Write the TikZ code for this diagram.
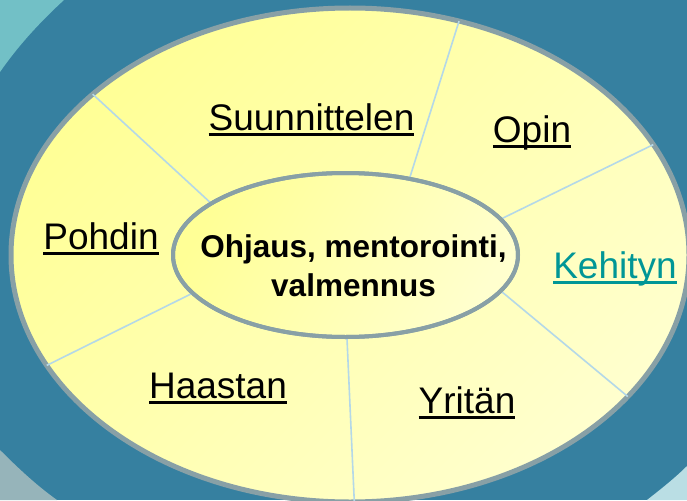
\documentclass[tikz,border=0pt]{standalone}
\usepackage{fontspec}
\setmainfont{Liberation Sans}
\usepackage{xcolor}
\usepackage{tikz}
\usetikzlibrary{shapes.geometric, positioning}
\definecolor{ringteal}{RGB}{54,128,160}
\definecolor{cornerteal}{RGB}{114,192,198}
\definecolor{cornergray}{RGB}{150,180,186}
\definecolor{cornercyan}{RGB}{186,222,228}
\definecolor{rimgray}{RGB}{136,160,166}
\definecolor{sunyellow}{RGB}{255,255,150}
\definecolor{paleyellow}{RGB}{255,255,206}
\definecolor{spoke}{RGB}{180,216,232}
\definecolor{linkteal}{RGB}{0,150,150}
\newcommand\ulabel[1]{\setbox0\hbox{#1}\rlap{\rule[-0.155em]{\wd0}{0.075em}}\box0}
\tikzset{
    plate/.style={ellipse, draw=rimgray, line width=5pt, inner sep=0pt, outer sep=0pt, top color=sunyellow, bottom color=paleyellow, shading angle=45},
    hub/.style={ellipse, draw=rimgray, line width=4pt, inner sep=0pt, outer sep=0pt, top color=sunyellow, bottom color=paleyellow, shading angle=60},
    divider/.style={draw=spoke, line width=1.6pt},
    sector/.style={font=\fontsize{37}{40}\selectfont, inner sep=0pt, anchor=base},
    hubtext/.style={font=\bfseries\fontsize{31.5}{39.4}\selectfont, inner sep=0pt, align=center}
}

\begin{document}
\begin{tikzpicture}[x=1pt, y=-1pt]
    \useasboundingbox (0,0) rectangle (687,500);
    \clip (0,0) rectangle (687,500);

    % Background and corners
    \fill[ringteal] (0,0) rectangle (687,500);
    \fill[cornerteal] (0,0) -- (64,0) .. controls (40,22) and (18,46) .. (0,72) -- cycle;
    \fill[cornergray] (0,450) .. controls (18,468) and (36,485) .. (57,500) -- (0,500) -- cycle;
    \fill[cornercyan] (647,500) .. controls (661,489) and (675,478) .. (687,466) -- (687,500) -- cycle;

    % Outer ellipse
    \node[plate, minimum width=678pt, minimum height=494pt] (plate) at (350,255) {};

    % Hub ellipse
    \node[hub, minimum width=345pt, minimum height=164pt] (hub) at (345.5,255) {};

    % Dividers
    \draw[divider] (hub.50.5) -- (plate.65.2);
    \draw[divider] (hub.13.7) -- (plate.20.3);
    \draw[divider] (hub.-13.5) -- (plate.-27.8);
    \draw[divider] (hub.-89) -- (plate.-89.5);
    \draw[divider] (hub.194) -- (plate.200.7);
    \draw[divider] (hub.159.8) -- (plate.148.1);

    % Hub border on top of dividers
    \draw[rimgray, line width=4pt] (hub.center) ellipse [x radius=172.5pt, y radius=82pt];

    \node[hubtext] (title) at (353.5,265.5) {Ohjaus, mentorointi,\\valmennus};

    % Sector labels
    \node[sector] (plan) at (311.5,130) {\ulabel{Suunnittelen}};
    \node[sector] (learn) at (532,142) {\ulabel{Opin}};
    \node[sector, text=linkteal] (grow) at (615,278) {\ulabel{Kehityn}};
    \node[sector] (try) at (467,413) {\ulabel{Yritän}};
    \node[sector] (challenge) at (218,398) {\ulabel{Haastan}};
    \node[sector] (reflect) at (101,249) {\ulabel{Pohdin}};
\end{tikzpicture}
\end{document}
